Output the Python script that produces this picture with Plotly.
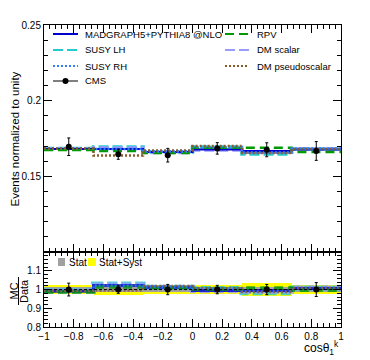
import plotly.graph_objects as go

# bins in cos(theta_1^k)
bin_edges = [-1, -2/3, -1/3, 0, 1/3, 2/3, 1]
bin_centers = [-5/6, -1/2, -1/6, 1/6, 1/2, 5/6]

# normalized distributions
cms = [0.1696, 0.1646, 0.1640, 0.1685, 0.1676, 0.1668]
cms_err = [0.0058, 0.0033, 0.0045, 0.0038, 0.0046, 0.0062]
madgraph = [0.1681, 0.1681, 0.1661, 0.1677, 0.1668, 0.1677]
rpv = [0.1674, 0.1668, 0.1655, 0.1690, 0.1690, 0.1661]
susy_lh = [0.1684, 0.1694, 0.1661, 0.1694, 0.1648, 0.1681]
dm_scalar = [0.1681, 0.1687, 0.1658, 0.1674, 0.1661, 0.1681]
susy_rh = [0.1684, 0.1681, 0.1664, 0.1694, 0.1658, 0.1684]
dm_pseudo = [0.1684, 0.1638, 0.1671, 0.1700, 0.1655, 0.1681]

# data uncertainty bands in ratio panel (half widths)
stat_band = [0.013, 0.011, 0.012, 0.012, 0.013, 0.015]
syst_band = [0.024, 0.028, 0.025, 0.024, 0.034, 0.025]

FONT = "Liberation Sans"
W, H = 362, 352          # page adds 8px body margin
L, R, T, B = 36, 29, 17, 33
PW, PH = W - L - R, H - T - B


def px(x, y):
    # figure pixels -> paper coords
    return (x - L) / PW, (H - B - y) / PH


models = [
    # name, values, color, dash, width, ratio width, legend column, row
    ("SUSY LH", susy_lh, "#22cccc", "10px,4px", 3.5, 5, 0, 1),
    ("DM scalar", dm_scalar, "#9a9aff", "10px,4px", 3.5, 5, 1, 1),
    ("MADGRAPH5+PYTHIA8 @NLO", madgraph, "#0000cc", "solid", 2, 3, 0, 0),
    ("RPV", rpv, "#009900", "9px,5px", 2.5, 3.5, 1, 0),
    ("SUSY RH", susy_rh, "#2f7fff", "2px,2px", 2.5, 2.5, 0, 2),
    ("DM pseudoscalar", dm_pseudo, "#8b5a2b", "2px,2px", 2.5, 2.5, 1, 2),
]

fig = go.Figure()

# ratio panel bands
fig.add_trace(go.Bar(
    x=bin_centers, y=[2*s for s in syst_band], base=[1 - s for s in syst_band],
    width=1/3, marker=dict(color="#ffff00", line=dict(width=0)),
    xaxis="x2", yaxis="y2",
))
fig.add_trace(go.Bar(
    x=bin_centers, y=[2*s for s in stat_band], base=[1 - s for s in stat_band],
    width=1/3, marker=dict(color="#a0a0a0", line=dict(width=0)),
    xaxis="x2", yaxis="y2",
))

shapes = []
annotations = []
col_x = [(45, 70, 75), (217, 241, 247)]
row_y = [26, 42, 58, 73]

for name, vals, color, dash, width, rwidth, col, row in models:
    fig.add_trace(go.Scatter(
        x=bin_edges, y=vals + [vals[-1]], mode="lines", line_shape="hv",
        line=dict(color=color, dash=dash, width=width),
    ))
    ratio = [v / d for v, d in zip(vals, cms)]
    fig.add_trace(go.Scatter(
        x=bin_edges, y=ratio + [ratio[-1]], mode="lines", line_shape="hv",
        line=dict(color=color, dash=dash, width=rwidth),
        opacity=0.8, xaxis="x2", yaxis="y2",
    ))
    # legend entry
    x0, x1, xt = col_x[col]
    ax0, ay = px(x0, row_y[row])
    ax1, _ = px(x1, row_y[row])
    axt, _ = px(xt, row_y[row])
    shapes.append(dict(type="line", xref="paper", yref="paper", x0=ax0, x1=ax1, y0=ay, y1=ay,
                       line=dict(color=color, dash=dash, width=2)))
    annotations.append(dict(text=name, xref="paper", yref="paper", x=axt, y=ay,
                            xanchor="left", yanchor="middle", showarrow=False,
                            font=dict(size=9.5)))

fig.add_trace(go.Scatter(
    x=bin_centers, y=cms, mode="markers",
    marker=dict(color="black", size=6),
    error_y=dict(type="data", array=cms_err, color="black", thickness=1, width=1.5),
))
fig.add_trace(go.Scatter(
    x=bin_centers, y=[1]*len(cms), mode="markers",
    marker=dict(color="black", size=6),
    error_y=dict(type="data", array=[e / d for e, d in zip(cms_err, cms)],
                 color="black", thickness=1, width=1.5),
    xaxis="x2", yaxis="y2",
))

# CMS legend entry
ax0, ay = px(45, row_y[3])
ax1, _ = px(70, row_y[3])
axt, _ = px(75, row_y[3])
cx0, cy0 = px(54.5, row_y[3] + 3)
cx1, cy1 = px(60.5, row_y[3] - 3)
shapes.append(dict(type="line", xref="paper", yref="paper", x0=ax0, x1=ax1, y0=ay, y1=ay,
                   line=dict(color="black", width=1)))
shapes.append(dict(type="circle", xref="paper", yref="paper", x0=cx0, x1=cx1, y0=cy0, y1=cy1,
                   fillcolor="black", line=dict(color="black", width=0)))
annotations.append(dict(text="CMS", xref="paper", yref="paper", x=axt, y=ay,
                        xanchor="left", yanchor="middle", showarrow=False, font=dict(size=9.5)))

# ratio legend: Stat, Stat+Syst
for (sx0, sx1, tx, color, label) in [(50, 57, 59, "#a0a0a0", "Stat"),
                                     (80, 88, 89, "#ffff00", "Stat+Syst")]:
    bx0, by0 = px(sx0, 258)
    bx1, by1 = px(sx1, 250)
    tx_, ty_ = px(tx, 254)
    shapes.append(dict(type="rect", xref="paper", yref="paper", x0=bx0, x1=bx1, y0=by0, y1=by1,
                       fillcolor=color, line=dict(width=0)))
    annotations.append(dict(text=label, xref="paper", yref="paper", x=tx_, y=ty_,
                            xanchor="left", yanchor="middle", showarrow=False,
                            font=dict(size=10)))

shapes.append(dict(type="line", xref="x2", yref="y2", x0=-1, x1=1, y0=1, y1=1,
                   line=dict(color="black", width=1, dash="3px,2px")))

# MC / Data fraction for the ratio axis title
fb0_x, fb0_y = px(10.5, 297)
fb1_x, fb1_y = px(10.5, 269)
shapes.append(dict(type="line", xref="paper", yref="paper", x0=fb0_x, x1=fb1_x,
                   y0=fb0_y, y1=fb1_y, line=dict(color="black", width=1)))

axis_common = dict(showline=True, linecolor="black", linewidth=1, mirror="ticks",
                   ticks="inside", ticklen=8, tickcolor="black", showgrid=False,
                   zeroline=False, tickfont=dict(size=10, color="black"))

xt_vals = [-1, -0.8, -0.6, -0.4, -0.2, 0, 0.2, 0.4, 0.6, 0.8, 1]
xt_text = ["−1", "−0.8", "−0.6", "−0.4", "−0.2", "0", "0.2", "0.4", "0.6", "0.8", "1"]

ytit_x, ytit_y = px(6, 62)
mc_x, mc_y = px(5.5, 283)
da_x, da_y = px(16, 283)
xtit_x, xtit_y = px(333, 340)

annotations += [
    dict(text="Events normalized to unity", textangle=-90, xref="paper", yref="paper",
         x=ytit_x, y=ytit_y, xanchor="center", yanchor="top", showarrow=False,
         font=dict(size=11.5)),
    dict(text="MC", textangle=-90, xref="paper", yref="paper",
         x=mc_x, y=mc_y, xanchor="center", yanchor="middle", showarrow=False,
         font=dict(size=11)),
    dict(text="Data", textangle=-90, xref="paper", yref="paper",
         x=da_x, y=da_y, xanchor="center", yanchor="middle", showarrow=False,
         font=dict(size=11)),
    dict(text="cosθ<sub>1</sub><sup>k</sup>", xref="paper", yref="paper",
         x=xtit_x, y=xtit_y, xanchor="right", yanchor="middle", showarrow=False,
         font=dict(size=12)),
]

fig.update_layout(
    width=W, height=H,
    margin=dict(l=L, r=R, t=T, b=B),
    paper_bgcolor="white", plot_bgcolor="white",
    font=dict(family=FONT, color="black"),
    barmode="overlay", bargap=0, showlegend=False,
    xaxis=dict(range=[-1, 1], domain=[0, 1], anchor="y", showticklabels=False,
               tickvals=xt_vals,
               minor=dict(ticks="inside", ticklen=4, dtick=0.04, tick0=-1, tickcolor="black"),
               **axis_common),
    yaxis=dict(range=[0.10, 0.25], domain=[0.248, 1], anchor="x",
               tickvals=[0.15, 0.2, 0.25], ticktext=["0.15", "0.2", "0.25"],
               minor=dict(ticks="inside", ticklen=4, dtick=0.01, tick0=0.1, tickcolor="black"),
               **axis_common),
    xaxis2=dict(range=[-1, 1], domain=[0, 1], anchor="y2",
                tickvals=xt_vals, ticktext=xt_text,
                minor=dict(ticks="inside", ticklen=4, dtick=0.04, tick0=-1, tickcolor="black"),
                **axis_common),
    yaxis2=dict(range=[0.8, 1.2], domain=[0, 0.248], anchor="x2",
                tickvals=[0.8, 0.9, 1, 1.1], ticktext=["0.8", "0.9", "1", "1.1"],
                minor=dict(ticks="inside", ticklen=4, dtick=0.02, tick0=0.8, tickcolor="black"),
                **axis_common),
    shapes=shapes,
    annotations=annotations,
)

fig.write_html("out.html")
